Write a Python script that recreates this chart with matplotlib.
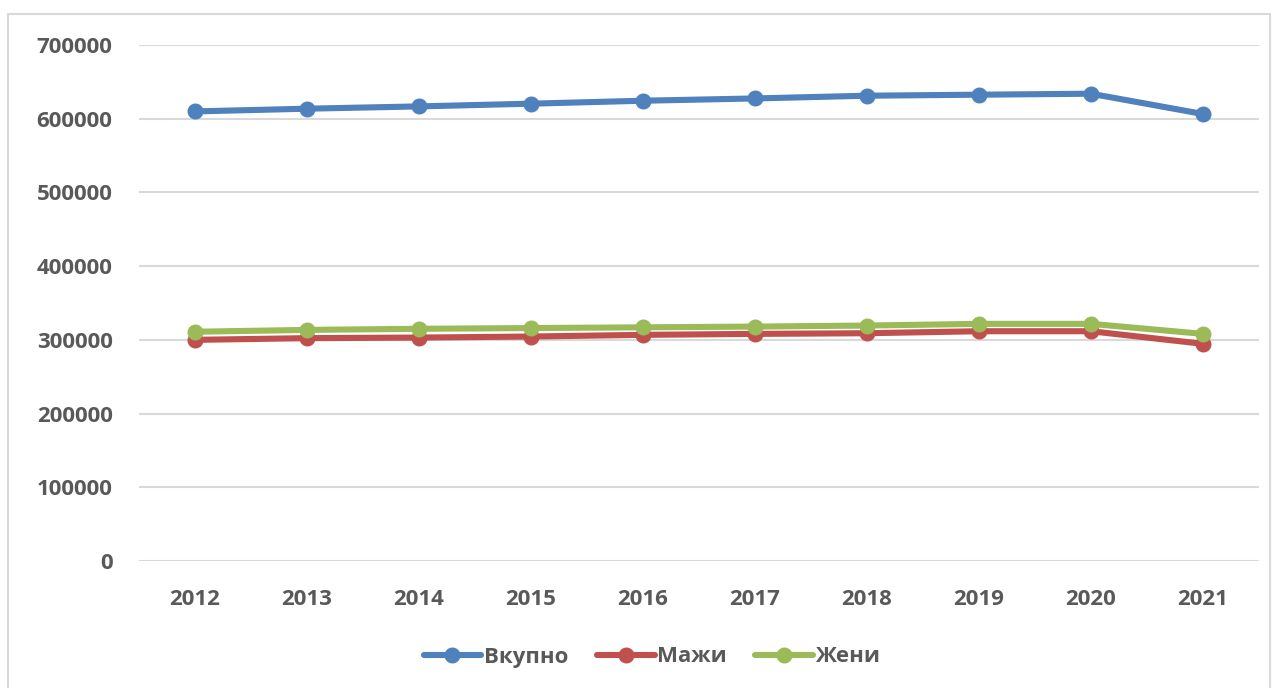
import matplotlib.pyplot as plt
from matplotlib.patches import Rectangle

years = ["2012", "2013", "2014", "2015", "2016", "2017", "2018", "2019", "2020", "2021"]
vkupno = [609900, 613600, 616700, 620400, 624400, 627500, 631200, 632600, 633900, 606400]
mazhi = [300000, 302300, 303100, 304500, 306800, 308100, 309000, 311700, 311700, 294600]
zheni = [311000, 313500, 315000, 316000, 317000, 318000, 319400, 321700, 321700, 308100]
series_names = ["Вкупно", "Мажи", "Жени"]
colors = ["#4F81BD", "#C0504D", "#9BBB59"]
yticks = [0, 100000, 200000, 300000, 400000, 500000, 600000, 700000]

text_gray = "#595959"
grid_gray = "#D9D9D9"
font = "Open Sans"

fig = plt.figure(figsize=(12.77, 6.88), dpi=100)
ax = fig.add_axes([139 / 1277, 1 - 561 / 688, (1259 - 139) / 1277, (561 - 45) / 688])

x = list(range(len(years)))
for vals, name, c in zip([vkupno, mazhi, zheni], series_names, colors):
    ax.plot(x, vals, color=c, lw=4.4, marker="o", ms=10.5, label=name,
            solid_capstyle="round", solid_joinstyle="round")

ax.set_xlim(-0.5, len(years) - 0.5)
ax.set_ylim(0, 700000)
ax.set_xticks(x)
ax.set_xticklabels(years)
ax.set_yticks(yticks)
ax.set_yticklabels([str(v) for v in yticks])
ax.grid(axis="y", color=grid_gray, lw=1.5)
ax.set_axisbelow(True)
for s in ax.spines.values():
    s.set_visible(False)
ax.tick_params(length=0, labelcolor=text_gray)
ax.tick_params(axis="y", pad=19)
ax.tick_params(axis="x", pad=20)
for lab in ax.get_xticklabels() + ax.get_yticklabels():
    lab.set_fontfamily(font)
    lab.set_fontweight("bold")
    lab.set_fontsize(16)

leg = fig.legend(loc="center", bbox_to_anchor=(652 / 1277, 1 - 657 / 688), ncol=3,
                 frameon=False, handlelength=2.6, handletextpad=0.1, columnspacing=1.3,
                 prop={"family": font, "weight": "bold", "size": 16})
for t in leg.get_texts():
    t.set_color(text_gray)

# outer chart border
fig.patches.append(Rectangle((8 / 1277, -0.01), (1270 - 8) / 1277, 1 - 14 / 688 + 0.01,
                             transform=fig.transFigure, fill=False,
                             edgecolor=grid_gray, lw=1.5))

fig.savefig("out.png", dpi=100)
